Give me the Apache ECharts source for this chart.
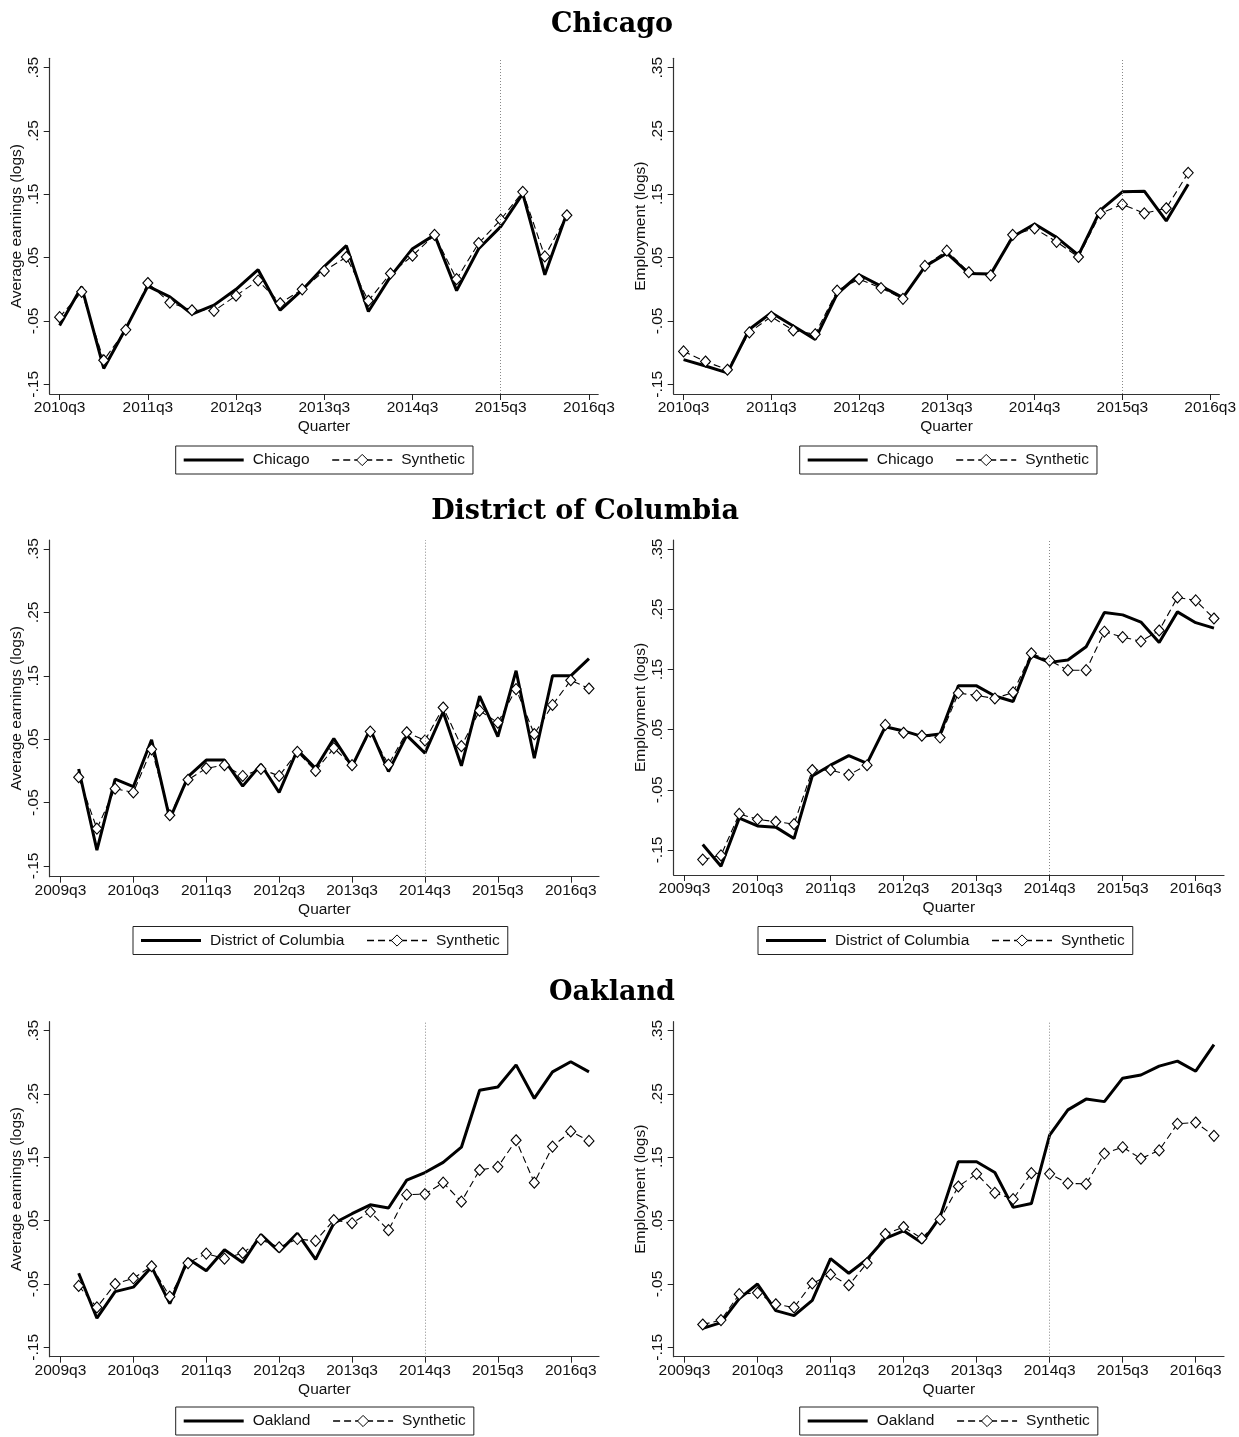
<!DOCTYPE html>
<html><head><meta charset="utf-8">
<script src="https://cdn.jsdelivr.net/npm/echarts/dist/echarts.min.js"></script>
<style>html,body{margin:0;padding:0;background:#fff}#c{width:1239px;height:1437px}</style>
</head><body><div id="c"></div>
<script>
// ---------------- DATA ----------------
const chiQuarters = ['2010q3','2010q4','2011q1','2011q2','2011q3','2011q4','2012q1','2012q2','2012q3','2012q4','2013q1','2013q2','2013q3','2013q4','2014q1','2014q2','2014q3','2014q4','2015q1','2015q2','2015q3','2015q4','2016q1','2016q2'];
const dcQuarters = ['2009q4','2010q1','2010q2','2010q3','2010q4','2011q1','2011q2','2011q3','2011q4','2012q1','2012q2','2012q3','2012q4','2013q1','2013q2','2013q3','2013q4','2014q1','2014q2','2014q3','2014q4','2015q1','2015q2','2015q3','2015q4','2016q1','2016q2','2016q3','2016q4'];
const chiTicks = ['2010q3','2011q3','2012q3','2013q3','2014q3','2015q3','2016q3'];
const dcTicks = ['2009q3','2010q3','2011q3','2012q3','2013q3','2014q3','2015q3','2016q3'];
const yTicks = [-0.15, -0.05, 0.05, 0.15, 0.25, 0.35];
const chiTreatment = '2015q3';
const dcTreatment = '2014q3';

const chiEarn    = [-0.057, 0.004, -0.125, -0.062, 0.005, -0.012, -0.039, -0.025, 0.000, 0.031, -0.033, -0.001, 0.036, 0.069, -0.035, 0.020, 0.064, 0.086, -0.002, 0.064, 0.099, 0.151, 0.023, 0.120];
const chiEarnSyn = [-0.044, -0.004, -0.112, -0.064, 0.010, -0.021, -0.033, -0.034, -0.010, 0.014, -0.022, 0.000, 0.029, 0.051, -0.018, 0.025, 0.053, 0.086, 0.016, 0.073, 0.110, 0.154, 0.052, 0.117];
const chiEmp     = [-0.111, -0.121, -0.132, -0.063, -0.037, -0.058, -0.079, -0.007, 0.023, 0.005, -0.013, 0.036, 0.057, 0.025, 0.024, 0.083, 0.103, 0.082, 0.054, 0.125, 0.154, 0.155, 0.108, 0.166];
const chiEmpSyn  = [-0.098, -0.114, -0.127, -0.068, -0.043, -0.065, -0.071, -0.002, 0.016, 0.002, -0.015, 0.037, 0.061, 0.027, 0.022, 0.086, 0.096, 0.075, 0.051, 0.120, 0.134, 0.120, 0.128, 0.184];

const dcEarn     = [0.003, -0.125, -0.013, -0.025, 0.049, -0.076, -0.009, 0.017, 0.017, -0.024, 0.010, -0.034, 0.033, 0.004, 0.051, 0.007, 0.066, -0.001, 0.056, 0.028, 0.093, 0.008, 0.118, 0.054, 0.158, 0.020, 0.150, 0.150, 0.177];
const dcEarnSyn  = [-0.010, -0.091, -0.028, -0.034, 0.034, -0.070, -0.014, 0.004, 0.009, -0.008, 0.003, -0.008, 0.030, 0.000, 0.036, 0.009, 0.062, 0.010, 0.061, 0.048, 0.100, 0.039, 0.095, 0.076, 0.129, 0.058, 0.104, 0.143, 0.130];
const dcEmp      = [-0.141, -0.177, -0.097, -0.110, -0.112, -0.131, -0.027, -0.009, 0.007, -0.006, 0.055, 0.048, 0.039, 0.043, 0.123, 0.123, 0.106, 0.097, 0.174, 0.162, 0.166, 0.188, 0.245, 0.241, 0.229, 0.195, 0.246, 0.228, 0.219];
const dcEmpSyn   = [-0.166, -0.159, -0.090, -0.099, -0.103, -0.107, -0.017, -0.017, -0.025, -0.009, 0.058, 0.045, 0.040, 0.037, 0.111, 0.107, 0.102, 0.112, 0.177, 0.165, 0.149, 0.149, 0.213, 0.204, 0.197, 0.215, 0.270, 0.265, 0.235];

const oakEarn    = [-0.033, -0.104, -0.062, -0.055, -0.023, -0.081, -0.010, -0.029, 0.004, -0.016, 0.028, 0.001, 0.030, -0.011, 0.046, 0.061, 0.075, 0.070, 0.114, 0.126, 0.142, 0.166, 0.256, 0.261, 0.296, 0.243, 0.285, 0.301, 0.285];
const oakEarnSyn = [-0.053, -0.087, -0.050, -0.041, -0.022, -0.070, -0.017, -0.002, -0.010, -0.001, 0.020, 0.008, 0.021, 0.018, 0.051, 0.046, 0.064, 0.035, 0.091, 0.092, 0.110, 0.080, 0.130, 0.135, 0.177, 0.110, 0.167, 0.191, 0.176];
const oakEmp     = [-0.120, -0.111, -0.073, -0.050, -0.092, -0.100, -0.076, -0.010, -0.033, -0.011, 0.022, 0.034, 0.015, 0.056, 0.143, 0.143, 0.126, 0.071, 0.077, 0.185, 0.225, 0.242, 0.238, 0.275, 0.280, 0.294, 0.302, 0.286, 0.328];
const oakEmpSyn  = [-0.114, -0.107, -0.066, -0.064, -0.082, -0.087, -0.049, -0.035, -0.052, -0.017, 0.029, 0.040, 0.022, 0.052, 0.104, 0.124, 0.094, 0.084, 0.125, 0.124, 0.109, 0.108, 0.156, 0.166, 0.148, 0.161, 0.203, 0.205, 0.184];

// ---------------- HELPERS ----------------
const qnum = s => (+s.slice(0, 4)) * 4 + (+s.slice(5)) - 1;
const qlabel = v => { const n = Math.round(v); return Math.floor(n / 4) + 'q' + (n % 4 + 1); };
const ylabel = v => (v < 0 ? '-' : '') + Math.abs(v).toFixed(2).slice(1);

const FONT = 'Liberation Sans';
const FS = 15.5;

const panels = [
  {grid:{left:49.7, top:58.3, width:548.5, height:335.7}, q:chiQuarters, ticks:chiTicks, xpad:[0.45,0.42], lastTick:'2016q3', y:[-0.1653,0.3648], yname:'Average earnings (logs)', name:'Chicago', a:chiEarn, s:chiEarnSyn, treat:chiTreatment},
  {grid:{left:673.7, top:58.3, width:549.6, height:335.7}, q:chiQuarters, ticks:chiTicks, xpad:[0.45,0.42], lastTick:'2016q3', y:[-0.1653,0.3648], yname:'Employment (logs)', name:'Chicago', a:chiEmp, s:chiEmpSyn, treat:chiTreatment},
  {grid:{left:49.7, top:540, width:549.3, height:336.7}, q:dcQuarters, ticks:dcTicks, xpad:[0.59,0.55], lastTick:'2016q4', y:[-0.1669,0.3642], yname:'Average earnings (logs)', name:'District of Columbia', a:dcEarn, s:dcEarnSyn, treat:dcTreatment},
  {grid:{left:673.7, top:540, width:550.3, height:335}, q:dcQuarters, ticks:dcTicks, xpad:[0.59,0.55], lastTick:'2016q4', y:[-0.1916,0.3655], yname:'Employment (logs)', name:'District of Columbia', a:dcEmp, s:dcEmpSyn, treat:dcTreatment},
  {grid:{left:49.7, top:1021.7, width:549.3, height:335}, q:dcQuarters, ticks:dcTicks, xpad:[0.59,0.55], lastTick:'2016q4', y:[-0.1648,0.3642], yname:'Average earnings (logs)', name:'Oakland', a:oakEarn, s:oakEarnSyn, treat:dcTreatment},
  {grid:{left:673.7, top:1021.7, width:550.3, height:335}, q:dcQuarters, ticks:dcTicks, xpad:[0.59,0.55], lastTick:'2016q4', y:[-0.1648,0.3642], yname:'Employment (logs)', name:'Oakland', a:oakEmp, s:oakEmpSyn, treat:dcTreatment}
];
const legendPos = [
  {left:175.7, top:446}, {left:799.7, top:446},
  {left:133, top:926.5}, {left:758, top:926.5},
  {left:175.7, top:1407}, {left:799.7, top:1407}
];

const axisLineStyle = {color:'#333', width:1.2};
const grids = [], xAxes = [], yAxes = [], series = [], legends = [];

panels.forEach((p, i) => {
  grids.push(Object.assign({containLabel:false}, p.grid));
  const tickVals = p.ticks.map(qnum);
  xAxes.push({
    type:'value', gridIndex:i,
    min: qnum(p.ticks[0]) - p.xpad[0],
    max: qnum(p.lastTick) + p.xpad[1],
    splitLine:{show:false},
    axisLine:{show:true, onZero:false, lineStyle:axisLineStyle},
    axisTick:{show:true, length:6, customValues:tickVals, lineStyle:{color:'#222', width:1}},
    axisLabel:{customValues:tickVals, formatter:qlabel, margin:6, fontFamily:FONT, fontSize:FS, color:'#111'},
    name:'Quarter', nameLocation:'middle', nameGap:25,
    nameTextStyle:{fontFamily:FONT, fontSize:FS, color:'#111'}
  });
  yAxes.push({
    type:'value', gridIndex:i, min:p.y[0], max:p.y[1],
    splitLine:{show:false},
    axisLine:{show:true, onZero:false, lineStyle:axisLineStyle},
    axisTick:{show:true, length:6, customValues:yTicks, lineStyle:{color:'#222', width:1}},
    axisLabel:{customValues:yTicks, formatter:ylabel, rotate:90, margin:8, fontFamily:FONT, fontSize:FS, color:'#111'},
    name:p.yname, nameLocation:'middle', nameRotate:90, nameGap:24,
    nameTextStyle:{fontFamily:FONT, fontSize:FS, color:'#111'}
  });
  series.push({
    type:'line', name:p.name, xAxisIndex:i, yAxisIndex:i,
    data: p.q.map((q, k) => [qnum(q), p.a[k]]),
    symbol:'none', lineStyle:{color:'#000', width:3}, itemStyle:{color:'#000'},
    silent:true, z:2,
    markLine:{symbol:'none', silent:true, label:{show:false},
      lineStyle:{type:[1,2], color:'#888', width:1},
      data:[{xAxis:qnum(p.treat)}]}
  });
  series.push({
    type:'line', name:'Synthetic', xAxisIndex:i, yAxisIndex:i,
    data: p.q.map((q, k) => [qnum(q), p.s[k]]),
    symbol:'diamond', symbolSize:[10,11], showAllSymbol:true,
    lineStyle:{color:'#000', width:1.1, type:[7,4]},
    itemStyle:{color:'#fff', borderColor:'#000', borderWidth:1.1},
    silent:true, z:3
  });
  legends.push({
    left:legendPos[i].left, top:legendPos[i].top,
    orient:'horizontal', itemWidth:60, itemHeight:14, itemGap:22,
    padding:[6,8], borderColor:'#222', borderWidth:1,
    selectedMode:false,
    textStyle:{fontFamily:FONT, fontSize:FS, color:'#111', padding:[0,0,0,4]},
    data:[
      {name:p.name, icon:'path://M0,0 h60 v3 h-60 z', itemStyle:{color:'#000'}},
      {name:'Synthetic', lineStyle:{width:1.3, color:'#000', type:[7,4]},
       itemStyle:{color:'#fff', borderColor:'#000', borderWidth:1}}
    ]
  });
});

const titleStyle = {fontFamily:'DejaVu Serif', fontWeight:'bold', fontSize:27, color:'#000'};
const titles = [
  {text:'Chicago', left:607, top:6, textAlign:'center', textStyle:titleStyle},
  {text:'District of Columbia', left:580, top:493, textAlign:'center', textStyle:titleStyle},
  {text:'Oakland', left:607, top:974, textAlign:'center', textStyle:titleStyle}
];

const chart = echarts.init(document.getElementById('c'), null, {renderer:'canvas'});
chart.setOption({
  animation:false,
  backgroundColor:'#fff',
  title:titles,
  grid:grids, xAxis:xAxes, yAxis:yAxes, series:series, legend:legends
});
</script></body></html>
